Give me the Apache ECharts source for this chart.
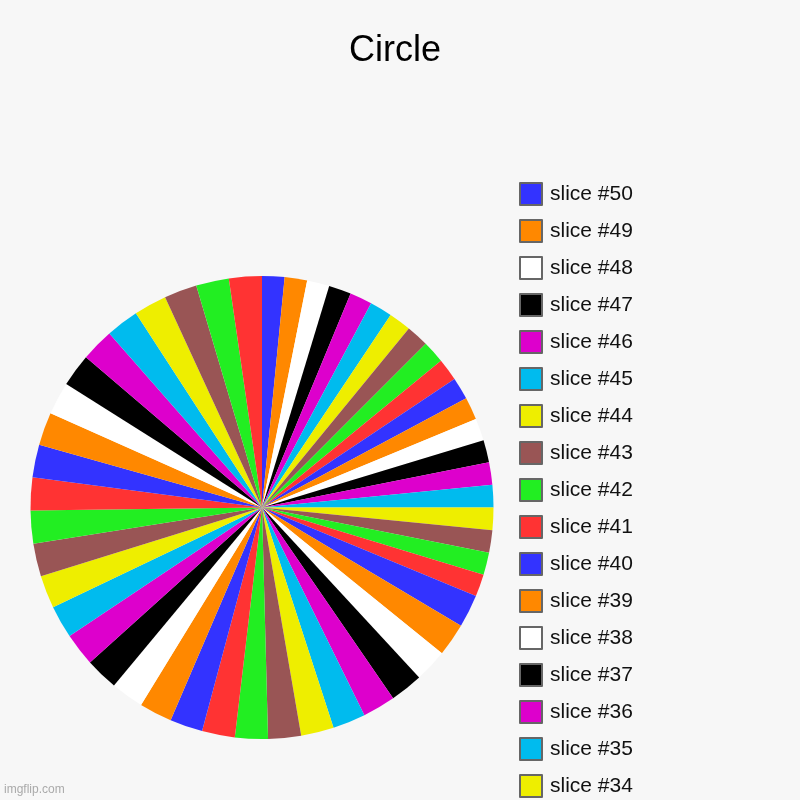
<!DOCTYPE html>
<html>
<head>
<meta charset="utf-8">
<script src="https://cdn.jsdelivr.net/npm/echarts@6/dist/echarts.min.js"></script>
<style>
html,body{margin:0;padding:0;background:#f7f7f7;}
#chart{width:800px;height:800px;}
</style>
</head>
<body>
<div id="chart"></div>
<script>
var sliceNames = [
  'slice #50','slice #49','slice #48','slice #47','slice #46','slice #45','slice #44','slice #43','slice #42','slice #41',
  'slice #40','slice #39','slice #38','slice #37','slice #36','slice #35','slice #34','slice #33','slice #32','slice #31',
  'slice #30','slice #29','slice #28','slice #27','slice #26','slice #25','slice #24','slice #23','slice #22','slice #21',
  'slice #20','slice #19','slice #18','slice #17','slice #16','slice #15','slice #14','slice #13','slice #12','slice #11',
  'slice #10','slice #9','slice #8','slice #7','slice #6','slice #5','slice #4','slice #3','slice #2','slice #1'
];
var sliceValues = [
  15,15,15,15,15,15,15,15,15,15,
  15,15,15,15,15,15,15,15,15,15,
  22,22,22,22,22,22,22,22,22,22,
  22,22,22,22,22,22,22,22,22,22,
  22,22,22,22,22,22,22,22,22,22
];
var palette = ['#3333ff','#ff8800','#ffffff','#000000','#dd00cc','#00bbee','#eeee00','#995555','#22ee22','#ff3333'];

var pieData = sliceNames.map(function (n, i) {
  return { name: n, value: sliceValues[i], itemStyle: { color: palette[i % palette.length] } };
});

var chart = echarts.init(document.getElementById('chart'), null, { renderer: 'canvas' });
chart.setOption({
  backgroundColor: '#f7f7f7',
  animation: false,
  title: {
    text: 'Circle',
    left: 349,
    top: 33,
    padding: 0,
    textStyle: { fontFamily: 'Liberation Sans, Arial, sans-serif', fontSize: 36, fontWeight: 'normal', color: '#000' }
  },
  legend: {
    orient: 'vertical',
    left: 519,
    top: 182,
    height: 3000,
    padding: 0,
    icon: 'rect',
    itemWidth: 22,
    itemHeight: 22,
    itemGap: 13,
    itemStyle: { borderColor: '#666666', borderWidth: 2 },
    selectedMode: false,
    textStyle: { fontFamily: 'Liberation Sans, Arial, sans-serif', fontSize: 21, lineHeight: 22, color: '#111', padding: [0, 0, 0, 3] },
    data: sliceNames
  },
  graphic: [{
    type: 'text',
    left: 4,
    top: 784,
    style: { text: 'imgflip.com', fill: '#aaaaaa', font: '12px Liberation Sans, Arial, sans-serif' }
  }],
  series: [{
    type: 'pie',
    center: [262, 507.5],
    radius: [0, 231.5],
    startAngle: 90,
    clockwise: true,
    label: { show: false },
    labelLine: { show: false },
    emphasis: { disabled: true },
    itemStyle: { borderWidth: 0 },
    data: pieData
  }]
});
</script>
</body>
</html>
